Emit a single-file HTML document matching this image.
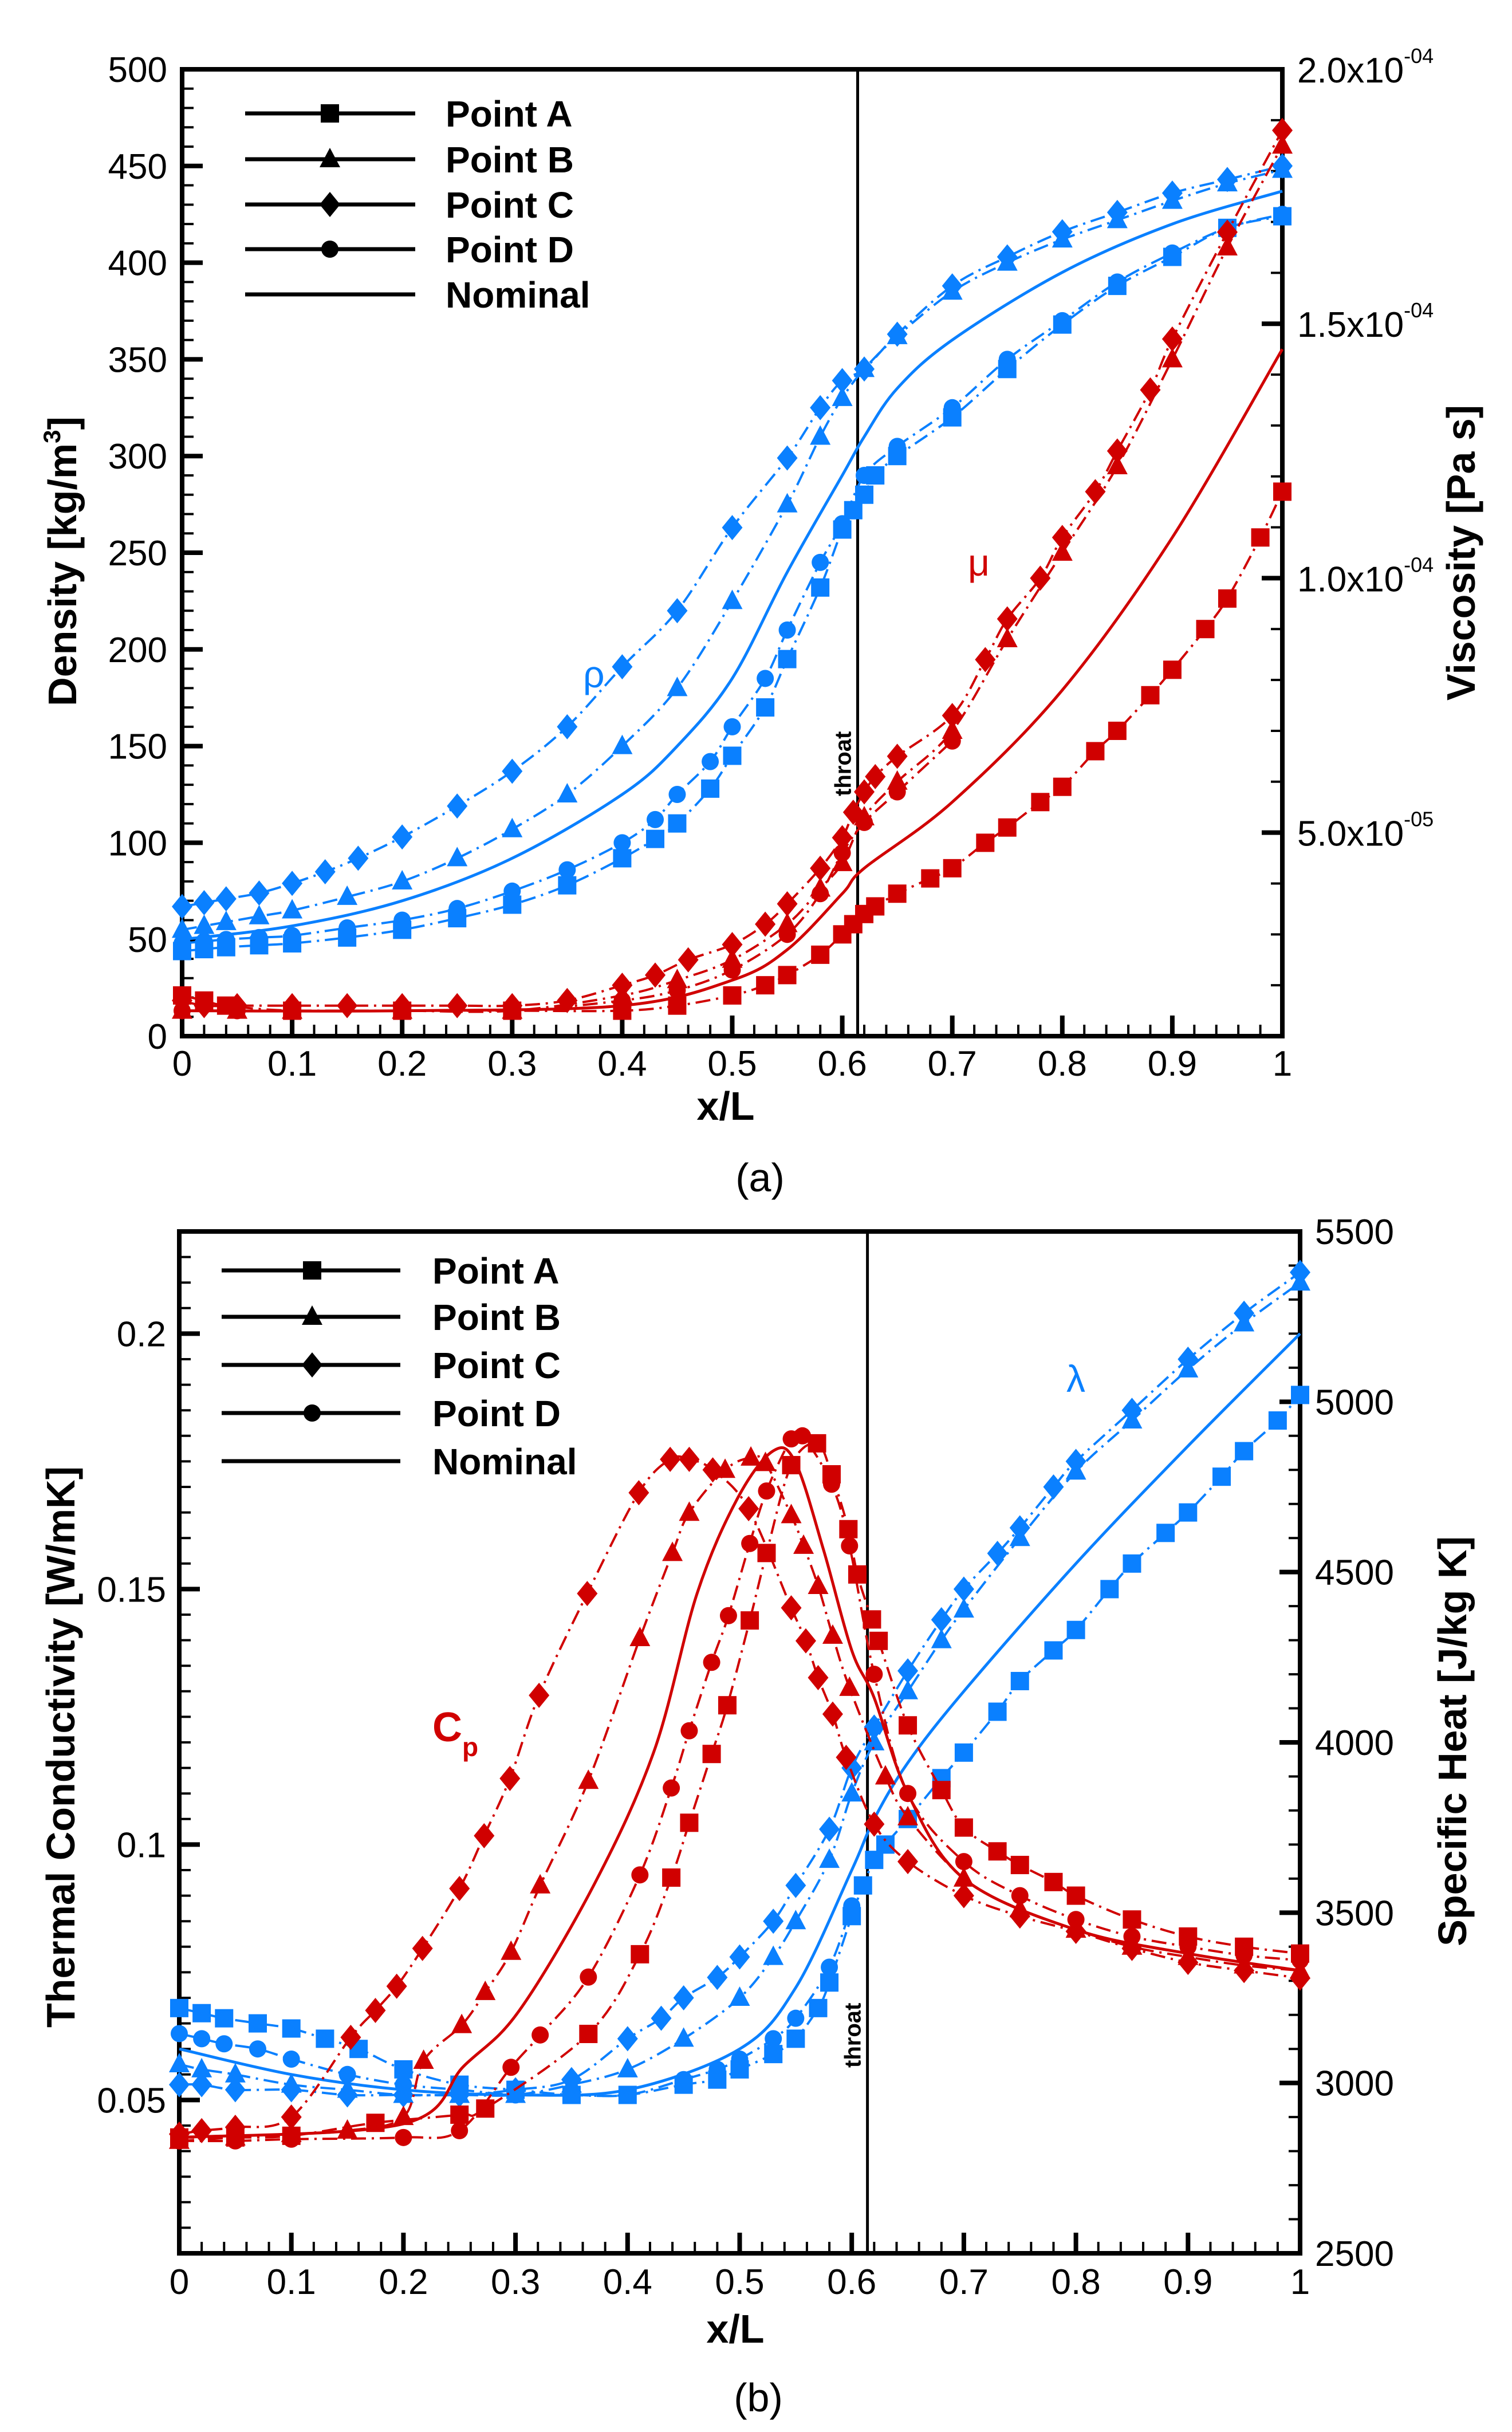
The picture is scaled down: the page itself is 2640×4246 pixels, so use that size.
<!DOCTYPE html>
<html><head><meta charset="utf-8"><style>
html,body{margin:0;padding:0;background:#fff}
svg{display:block}
text{font-family:"Liberation Sans",Arial,sans-serif}
</style></head><body>
<svg id="fig" xmlns="http://www.w3.org/2000/svg" width="2640" height="4246" viewBox="0 0 2640 4246">
<g id="pa"></g>
<g id="pb"></g>
</svg>
<script>
// ---------- Panel (a) data ----------
const aRhoX_C=[0,0.02,0.04,0.07,0.1,0.13,0.16,0.2,0.25,0.3,0.35,0.4,0.45,0.5,0.55,0.58,0.6,0.62,0.65,0.7,0.75,0.8,0.85,0.9,0.95,1.0];
const aRho_C=[67,69,71,74,79,85,92,103,119,137,160,191,220,263,299,325,339,345,363,388,403,416,426,436,443,450];
const aRhoX_B=[0,0.02,0.04,0.07,0.1,0.15,0.2,0.25,0.3,0.35,0.4,0.45,0.5,0.55,0.58,0.6,0.62,0.65,0.7,0.75,0.8,0.85,0.9,0.95,1.0];
const aRho_B=[55,57,59,62,65,72,80,92,107,125,150,180,225,275,310,330,345,362,385,400,412,422,432,441,448];
const aRhoX_N=[0,0.1,0.2,0.3,0.4,0.45,0.5,0.55,0.6,0.62,0.65,0.7,0.8,0.9,1.0];
const aRho_N=[50,57,70,92,125,150,185,240,290,310,335,360,395,420,437];
const aRhoX_D=[0,0.02,0.04,0.07,0.1,0.15,0.2,0.25,0.3,0.35,0.4,0.43,0.45,0.48,0.5,0.53,0.55,0.58,0.6,0.62,0.65,0.7,0.75,0.8,0.85,0.9,0.95,1.0];
const aRho_D=[48,49,50,51,52,56,60,66,75,86,100,112,125,142,160,185,210,245,265,290,305,325,350,370,390,405,418,425];
const aRhoX_A=[0,0.02,0.04,0.07,0.1,0.15,0.2,0.25,0.3,0.35,0.4,0.43,0.45,0.48,0.5,0.53,0.55,0.58,0.6,0.61,0.62,0.63,0.65,0.7,0.75,0.8,0.85,0.9,0.95,1.0];
const aRho_A=[44,45,46,47,48,51,55,61,68,78,92,102,110,128,145,170,195,232,262,272,280,290,300,320,345,368,388,403,418,424];

const aMuX_C=[0,0.02,0.05,0.1,0.15,0.2,0.25,0.3,0.35,0.4,0.43,0.46,0.5,0.53,0.55,0.58,0.6,0.61,0.62,0.63,0.65,0.7,0.73,0.75,0.78,0.8,0.83,0.85,0.88,0.9,0.95,1.0];
const aMu_C=[1.7e-5,1.6e-5,1.6e-5,1.6e-5,1.6e-5,1.6e-5,1.6e-5,1.6e-5,1.7e-5,2.0e-5,2.2e-5,2.5e-5,2.8e-5,3.2e-5,3.6e-5,4.3e-5,4.9e-5,5.4e-5,5.8e-5,6.1e-5,6.5e-5,7.3e-5,8.4e-5,9.2e-5,1.0e-4,1.08e-4,1.17e-4,1.25e-4,1.37e-4,1.47e-4,1.68e-4,1.88e-4];
const aMuX_B=[0,0.05,0.1,0.2,0.3,0.4,0.45,0.5,0.55,0.58,0.6,0.62,0.65,0.7,0.75,0.8,0.85,0.9,0.95,1.0];
const aMu_B=[1.5e-5,1.5e-5,1.5e-5,1.5e-5,1.5e-5,1.8e-5,2.1e-5,2.5e-5,3.2e-5,3.9e-5,4.4e-5,5.3e-5,6.0e-5,7.0e-5,8.8e-5,1.05e-4,1.22e-4,1.43e-4,1.65e-4,1.85e-4];
const aMuX_N=[0,0.2,0.4,0.5,0.55,0.6,0.62,0.7,0.8,0.9,1.0];
const aMu_N=[1.5e-5,1.5e-5,1.6e-5,2.1e-5,2.7e-5,3.8e-5,4.3e-5,5.6e-5,7.8e-5,1.08e-4,1.45e-4];
const aMuX_D=[0,0.05,0.1,0.2,0.3,0.4,0.45,0.5,0.55,0.58,0.6,0.62,0.65,0.7];
const aMu_D=[1.5e-5,1.5e-5,1.5e-5,1.5e-5,1.5e-5,1.7e-5,1.9e-5,2.3e-5,3.0e-5,3.8e-5,4.6e-5,5.2e-5,5.8e-5,6.8e-5];
const aMuX_A=[0,0.02,0.04,0.1,0.2,0.3,0.4,0.45,0.5,0.53,0.55,0.58,0.6,0.61,0.62,0.63,0.65,0.68,0.7,0.73,0.75,0.78,0.8,0.83,0.85,0.88,0.9,0.93,0.95,0.98,1.0];
const aMu_A=[1.8e-5,1.7e-5,1.6e-5,1.5e-5,1.5e-5,1.5e-5,1.5e-5,1.6e-5,1.8e-5,2.0e-5,2.2e-5,2.6e-5,3.0e-5,3.2e-5,3.4e-5,3.55e-5,3.8e-5,4.1e-5,4.3e-5,4.8e-5,5.1e-5,5.6e-5,5.9e-5,6.6e-5,7.0e-5,7.7e-5,8.2e-5,9.0e-5,9.6e-5,1.08e-4,1.17e-4];

// ---------- Panel (b) data ----------
const bLamX_C=[0,0.02,0.05,0.1,0.15,0.2,0.25,0.3,0.35,0.4,0.43,0.45,0.48,0.5,0.53,0.55,0.58,0.6,0.62,0.65,0.68,0.7,0.73,0.75,0.78,0.8,0.85,0.9,0.95,1.0];
const bLam_C=[0.053,0.053,0.052,0.052,0.051,0.051,0.051,0.052,0.054,0.062,0.066,0.070,0.074,0.078,0.085,0.092,0.103,0.115,0.123,0.134,0.144,0.150,0.157,0.162,0.170,0.175,0.185,0.195,0.204,0.212];
const bLamX_B=[0,0.02,0.05,0.1,0.15,0.2,0.25,0.3,0.35,0.4,0.45,0.5,0.53,0.55,0.58,0.6,0.62,0.65,0.68,0.7,0.75,0.8,0.85,0.9,0.95,1.0];
const bLam_B=[0.057,0.056,0.055,0.053,0.052,0.051,0.051,0.051,0.053,0.056,0.062,0.070,0.078,0.085,0.097,0.110,0.120,0.130,0.140,0.146,0.160,0.173,0.183,0.193,0.202,0.210];
const bLamX_N=[0,0.1,0.2,0.3,0.4,0.5,0.55,0.6,0.62,0.65,0.7,0.8,0.9,1.0];
const bLam_N=[0.060,0.055,0.052,0.051,0.052,0.060,0.072,0.095,0.105,0.116,0.130,0.155,0.178,0.200];
const bLamX_D=[0,0.02,0.04,0.07,0.1,0.15,0.2,0.25,0.3,0.35,0.4,0.45,0.48,0.5,0.53,0.55,0.58,0.6];
const bLam_D=[0.063,0.062,0.061,0.060,0.058,0.055,0.053,0.052,0.051,0.051,0.051,0.054,0.056,0.058,0.062,0.066,0.076,0.088];
const bLamX_A=[0,0.02,0.04,0.07,0.1,0.13,0.16,0.2,0.25,0.3,0.35,0.4,0.45,0.48,0.5,0.53,0.55,0.57,0.58,0.6,0.61,0.62,0.63,0.65,0.68,0.7,0.73,0.75,0.78,0.8,0.83,0.85,0.88,0.9,0.93,0.95,0.98,1.0];
const bLam_A=[0.068,0.067,0.066,0.065,0.064,0.062,0.060,0.056,0.053,0.052,0.051,0.051,0.053,0.054,0.056,0.059,0.062,0.068,0.073,0.086,0.092,0.097,0.100,0.105,0.113,0.118,0.126,0.132,0.138,0.142,0.150,0.155,0.161,0.165,0.172,0.177,0.183,0.188];

const bCpX_C=[0,0.02,0.05,0.1,0.153,0.175,0.194,0.217,0.25,0.272,0.295,0.321,0.364,0.41,0.438,0.455,0.476,0.508,0.546,0.559,0.57,0.583,0.595,0.62,0.65,0.7,0.75,0.8,0.85,0.9,0.95,1.0];
const bCp_C=[2850,2860,2870,2900,3134,3213,3284,3395,3571,3726,3894,4138,4437,4733,4831,4831,4800,4686,4395,4298,4190,4083,3956,3760,3650,3550,3490,3445,3395,3354,3330,3308];
const bCpX_B=[0,0.05,0.1,0.15,0.2,0.218,0.252,0.273,0.296,0.322,0.365,0.411,0.44,0.455,0.487,0.51,0.523,0.546,0.557,0.57,0.583,0.598,0.63,0.65,0.7,0.75,0.8,0.85,0.9,0.95,1.0];
const bCp_B=[2830,2840,2850,2860,2900,3065,3170,3267,3385,3580,3887,4306,4556,4674,4800,4836,4820,4667,4577,4459,4313,4160,3900,3780,3600,3510,3450,3400,3370,3345,3330];
const bCpX_N=[0,0.2,0.254,0.303,0.371,0.424,0.462,0.498,0.53,0.55,0.575,0.6,0.62,0.65,0.7,0.8,0.9,1.0];
const bCp_N=[2840,2880,3050,3211,3588,3978,4437,4716,4856,4820,4563,4270,4131,3850,3600,3450,3380,3330];
const bCpX_D=[0,0.05,0.1,0.2,0.25,0.296,0.322,0.365,0.411,0.439,0.455,0.475,0.49,0.509,0.524,0.546,0.556,0.582,0.598,0.62,0.65,0.7,0.75,0.8,0.85,0.9,0.95,1.0];
const bCp_D=[2830,2830,2835,2840,2860,3046,3141,3311,3611,3866,4034,4235,4372,4584,4738,4891,4900,4758,4577,4200,3850,3650,3550,3480,3430,3400,3375,3360];
const bCpX_A=[0,0.05,0.1,0.175,0.25,0.273,0.365,0.411,0.439,0.455,0.475,0.489,0.509,0.524,0.546,0.569,0.582,0.597,0.605,0.618,0.624,0.65,0.68,0.7,0.73,0.75,0.78,0.8,0.85,0.9,0.95,1.0];
const bCp_A=[2840,2840,2845,2883,2907,2925,3144,3378,3603,3764,3966,4109,4358,4556,4814,4878,4787,4626,4493,4361,4298,4050,3860,3750,3680,3640,3590,3550,3480,3430,3400,3380];

// ---------- axis ticks ----------
const aLeftTicks=[0,50,100,150,200,250,300,350,400,450,500];
const aRightTicks=[5e-5,1e-4,1.5e-4,2e-4];
const aRightTickLabels=["5.0x10","1.0x10","1.5x10","2.0x10"];
const aRightTickExp=["-05","-04","-04","-04"];
const xTicks=[0,0.1,0.2,0.3,0.4,0.5,0.6,0.7,0.8,0.9,1];
const xTickLabels=["0","0.1","0.2","0.3","0.4","0.5","0.6","0.7","0.8","0.9","1"];
const bLeftTicks=[0.05,0.1,0.15,0.2];
const bLeftTickLabels=["0.05","0.1","0.15","0.2"];
const bRightTicks=[2500,3000,3500,4000,4500,5000,5500];
const throatX=0.614;

const NS="http://www.w3.org/2000/svg";
const BLUE="#0a80ff", RED="#d00000";
function mk(parent,tag,attrs){const e=document.createElementNS(NS,tag);for(const k in attrs)e.setAttribute(k,attrs[k]);parent.appendChild(e);return e;}
function smooth(pts){let d="M"+pts[0][0]+","+pts[0][1];for(let i=0;i<pts.length-1;i++){const p0=pts[Math.max(0,i-1)],p1=pts[i],p2=pts[i+1],p3=pts[Math.min(pts.length-1,i+2)];const c1x=p1[0]+(p2[0]-p0[0])/6,c1y=p1[1]+(p2[1]-p0[1])/6,c2x=p2[0]-(p3[0]-p1[0])/6,c2y=p2[1]-(p3[1]-p1[1])/6;d+=" C"+c1x.toFixed(1)+","+c1y.toFixed(1)+" "+c2x.toFixed(1)+","+c2y.toFixed(1)+" "+p2[0].toFixed(1)+","+p2[1].toFixed(1);}return d;}
function marker(g,type,x,y,color){const s=18;let e;
 if(type==="square"){e=mk(g,"rect",{x:x-s+2,y:y-s+2,width:2*s-4,height:2*s-4,fill:color});}
 else if(type==="triangle"){e=mk(g,"polygon",{points:`${x},${y-s-2} ${x+s},${y+s-4} ${x-s},${y+s-4}`,fill:color});}
 else if(type==="diamond"){e=mk(g,"polygon",{points:`${x},${y-s-4} ${x+s},${y} ${x},${y+s+4} ${x-s},${y}`,fill:color});}
 else {e=mk(g,"circle",{cx:x,cy:y,r:s-3,fill:color});}
 
 }
function series(g,name,xs,vs,X,Y,color,type){const sg=mk(g,"g",{});
 
 
 const pts=xs.map((x,i)=>[X(x),Y(vs[i])]);
 const p=mk(sg,"path",{d:smooth(pts),fill:"none",stroke:color,"stroke-width":type?4:5,"stroke-dasharray":type?"26,10,4,10":"none"});
 
 
 if(type)pts.forEach(q=>marker(sg,type,q[0],q[1],color));}
function txt(g,x,y,s,attrs,name){const t=mk(g,"text",Object.assign({x:x,y:y},attrs));t.textContent=s;
 
 return t;}
function frame(g,L,R,T,B,X){mk(g,"rect",{x:L,y:T,width:R-L,height:B-T,fill:"none",stroke:"#000","stroke-width":8});
 for(let i=0;i<=50;i++){const v=i/50,x=X(v),maj=i%5===0;mk(g,"line",{x1:x,y1:B,x2:x,y2:B-(maj?36:20),stroke:"#000","stroke-width":maj?8:4});}}
function legend(g,x1,x2,xm,xt,ys,fs){const types=["square","triangle","diamond","circle",null],labels=["Point A","Point B","Point C","Point D","Nominal"];
 const lg=mk(g,"g",{});
 
 
 ys.forEach((y,i)=>{mk(lg,"line",{x1:x1,y1:y,x2:x2,y2:y,stroke:"#000","stroke-width":7});if(types[i])marker(lg,types[i],xm,y,"#000");
 txt(lg,xt,y+fs*0.36,labels[i],{"font-size":fs,"font-weight":"bold"},'legend-entry');});}

// ===== Panel A =====
(function(){const g=document.getElementById("pa");
 const L=318,R=2239,T=121,B=1809;
 const X=v=>L+(R-L)*v, Y=v=>B-(B-T)*v/500, Y2=v=>B-(B-T)*(v-1e-5)/1.9e-4;
 for(let v=0;v<=500;v+=10){const y=Y(v),maj=v%50===0;mk(g,"line",{x1:L,y1:y,x2:L+(maj?36:20),y2:y,stroke:"#000","stroke-width":maj?8:4});}
 for(let v=1e-5;v<=2.001e-4;v+=1e-5){const y=Y2(v),maj=Math.abs(v/5e-5-Math.round(v/5e-5))<1e-6;mk(g,"line",{x1:R,y1:y,x2:R-(maj?36:20),y2:y,stroke:"#000","stroke-width":maj?8:4});}
 aLeftTicks.forEach(v=>txt(g,292,Y(v)+22,String(v),{"font-size":62,"text-anchor":"end"},'y-tick-label'));
 aRightTicks.forEach((v,i)=>{const t=txt(g,2265,Y2(v)+23,aRightTickLabels[i],{"font-size":62},'y2-tick-label');const s=mk(t,"tspan",{dy:-34,"font-size":36});s.textContent=aRightTickExp[i];});
 xTicks.forEach((v,i)=>txt(g,X(v),1878,xTickLabels[i],{"font-size":62,"text-anchor":"middle"},'x-tick-label'));
 frame(g,L,R,T,B,X);
 mk(g,"line",{x1:X(throatX),y1:T,x2:X(throatX),y2:B,stroke:"#000","stroke-width":5});
 txt(g,0,0,"throat",{"font-size":40,"font-weight":"bold",transform:`translate(${X(throatX)-12},1390) rotate(-90)`},'throat-label');
 series(g,"rho-point-a",aRhoX_A,aRho_A,X,Y,BLUE,"square");
 series(g,"rho-point-d",aRhoX_D,aRho_D,X,Y,BLUE,"circle");
 series(g,"rho-nominal",aRhoX_N,aRho_N,X,Y,BLUE,null);
 series(g,"rho-point-b",aRhoX_B,aRho_B,X,Y,BLUE,"triangle");
 series(g,"rho-point-c",aRhoX_C,aRho_C,X,Y,BLUE,"diamond");
 series(g,"mu-point-a",aMuX_A,aMu_A,X,Y2,RED,"square");
 series(g,"mu-point-d",aMuX_D,aMu_D,X,Y2,RED,"circle");
 series(g,"mu-nominal",aMuX_N,aMu_N,X,Y2,RED,null);
 series(g,"mu-point-b",aMuX_B,aMu_B,X,Y2,RED,"triangle");
 series(g,"mu-point-c",aMuX_C,aMu_C,X,Y2,RED,"diamond");
 txt(g,1018,1200,"ρ",{"font-size":66,fill:BLUE,"font-family":"Liberation Serif"},'rho-label');
 txt(g,1690,1005,"μ",{"font-size":66,fill:RED,"font-family":"Liberation Serif"},'mu-label');
 legend(g,428,725,576,778,[198,278,357,435,514],64);
 const t1=txt(g,0,0,"Density [kg/m",{"font-size":70,"font-weight":"bold","text-anchor":"middle",transform:"translate(133,980) rotate(-90)"},'y-axis-title');
 const s1=mk(t1,"tspan",{dy:-28,"font-size":42});s1.textContent="3";const s2=mk(t1,"tspan",{dy:28});s2.textContent="]";
 txt(g,0,0,"Viscosity [Pa s]",{"font-size":70,"font-weight":"bold","text-anchor":"middle",transform:"translate(2575,965) rotate(-90)"},'y2-axis-title');
 txt(g,1267,1955,"x/L",{"font-size":70,"font-weight":"bold","text-anchor":"middle"},'x-axis-title');
 txt(g,1327,2080,"(a)",{"font-size":70,"text-anchor":"middle","font-family":"Liberation Serif"},'panel-a-caption');
})();

// ===== Panel B =====
(function(){const g=document.getElementById("pb");
 const L=313,R=2270,T=2150,B=3934;
 const X=v=>L+(R-L)*v, Y=v=>B-(B-T)*(v-0.02)/0.2, Y2=v=>B-(B-T)*(v-2500)/3000;
 for(let i=0;i<=40;i++){const v=0.02+i*0.005,y=Y(v),maj=(i%10)===6;mk(g,"line",{x1:L,y1:y,x2:L+(maj?36:20),y2:y,stroke:"#000","stroke-width":maj?8:4});}
 for(let v=2500;v<=5500;v+=100){const y=Y2(v),maj=v%500===0;mk(g,"line",{x1:R,y1:y,x2:R-(maj?36:20),y2:y,stroke:"#000","stroke-width":maj?8:4});}
 bLeftTicks.forEach((v,i)=>txt(g,290,Y(v)+22,bLeftTickLabels[i],{"font-size":62,"text-anchor":"end"},'y-tick-label'));
 bRightTicks.forEach(v=>txt(g,2296,Y2(v)+22,String(v),{"font-size":62},'y2-tick-label'));
 xTicks.forEach((v,i)=>txt(g,X(v),4005,xTickLabels[i],{"font-size":62,"text-anchor":"middle"},'x-tick-label'));
 frame(g,L,R,T,B,X);
 mk(g,"line",{x1:X(throatX),y1:T,x2:X(throatX),y2:B,stroke:"#000","stroke-width":5});
 txt(g,0,0,"throat",{"font-size":40,"font-weight":"bold",transform:`translate(${X(throatX)-12},3610) rotate(-90)`},'throat-label');
 series(g,"lambda-point-a",bLamX_A,bLam_A,X,Y,BLUE,"square");
 series(g,"lambda-point-d",bLamX_D,bLam_D,X,Y,BLUE,"circle");
 series(g,"lambda-nominal",bLamX_N,bLam_N,X,Y,BLUE,null);
 series(g,"lambda-point-b",bLamX_B,bLam_B,X,Y,BLUE,"triangle");
 series(g,"lambda-point-c",bLamX_C,bLam_C,X,Y,BLUE,"diamond");
 series(g,"cp-point-a",bCpX_A,bCp_A,X,Y2,RED,"square");
 series(g,"cp-point-d",bCpX_D,bCp_D,X,Y2,RED,"circle");
 series(g,"cp-nominal",bCpX_N,bCp_N,X,Y2,RED,null);
 series(g,"cp-point-b",bCpX_B,bCp_B,X,Y2,RED,"triangle");
 series(g,"cp-point-c",bCpX_C,bCp_C,X,Y2,RED,"diamond");
 const cp=txt(g,755,3040,"C",{"font-size":72,"font-weight":"bold",fill:RED},'cp-label');const cs=mk(cp,"tspan",{dy:26,"font-size":46});cs.textContent="p";
 txt(g,1862,2430,"λ",{"font-size":66,fill:BLUE,"font-family":"Liberation Serif"},'lambda-label');
 legend(g,387,699,545,755,[2218,2299,2383,2467,2551],64);
 txt(g,0,0,"Thermal Conductivity [W/mK]",{"font-size":70,"font-weight":"bold","text-anchor":"middle",transform:"translate(130,3050) rotate(-90)"},'y-axis-title');
 txt(g,0,0,"Specific Heat [J/kg K]",{"font-size":70,"font-weight":"bold","text-anchor":"middle",transform:"translate(2560,3040) rotate(-90)"},'y2-axis-title');
 txt(g,1284,4090,"x/L",{"font-size":70,"font-weight":"bold","text-anchor":"middle"},'x-axis-title');
 txt(g,1324,4210,"(b)",{"font-size":70,"text-anchor":"middle","font-family":"Liberation Serif"},'panel-b-caption');
})();
</script>
</body></html>
